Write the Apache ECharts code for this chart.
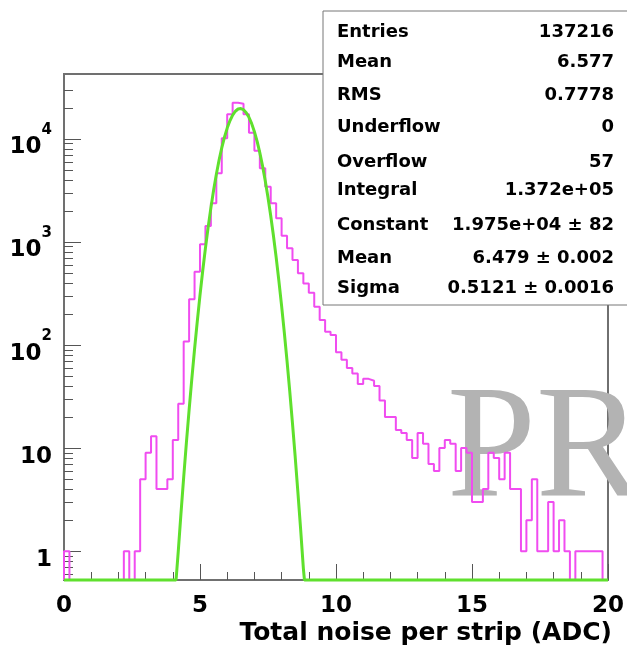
<!DOCTYPE html>
<html>
<head>
<meta charset="utf-8">
<script src="https://cdn.jsdelivr.net/npm/echarts@6/dist/echarts.min.js"></script>
<style>
  html, body { margin: 0; padding: 0; background: #fff; }
  #chart { width: 627px; height: 648px; }
</style>
</head>
<body>
<div id="chart"></div>
<script>
// histogram: 100 bins of 0.2 ADC from 0 to 20
const binWidth = 0.2
const counts = [
  1, 0, 0, 0, 0, 0, 0, 0, 0, 0,
  0, 1, 0, 1, 5, 9, 13, 4, 4, 5,
  12, 27, 108, 278, 515, 950, 1430, 2380, 4650, 10160,
  17400, 22500, 22000, 17400, 11500, 7700, 5200, 3440, 2380, 1700,
  1150, 868, 668, 497, 395, 322, 236, 175, 135, 125,
  85, 72, 60, 53, 42, 47, 45, 40, 29, 20,
  20, 15, 14, 12, 8, 14, 11, 7, 6, 10,
  12, 11, 6, 10, 9, 3, 3, 4, 9, 8,
  5, 9, 4, 4, 1, 2, 5, 1, 1, 3,
  1, 2, 1, 0, 1, 1, 1, 1, 1, 0
]

// gaussian fit curve as drawn (sits on the frame bottom outside 4.1..8.8)
const fitX = [0, 4.12, 4.2, 4.3, 4.4, 4.5, 4.6, 4.7, 4.8, 4.9, 5.0, 5.1, 5.2, 5.3, 5.4, 5.5, 5.6, 5.7, 5.8, 5.9,
  6.0, 6.1, 6.2, 6.3, 6.4, 6.5, 6.6, 6.7, 6.8, 6.9, 7.0, 7.1, 7.2, 7.3, 7.4, 7.5, 7.6, 7.7, 7.8, 7.9,
  8.0, 8.1, 8.2, 8.3, 8.4, 8.5, 8.6, 8.7, 8.8, 8.84, 20]
const fitY = [0, 0.5, 0.99, 2.31, 5.2, 11.3, 23.5, 47.3, 91.4, 170, 305, 526, 873, 1395, 2145, 3176, 4527, 6210, 8200, 10420,
  12750, 15020, 17030, 18580, 19520, 19730, 19210, 17990, 16230, 14090, 11770, 9470, 7331, 5460, 3918, 2706, 1799, 1151, 709, 420,
  240, 132, 69.7, 35.5, 17.4, 8.2, 3.7, 1.63, 0.68, 0.5, 0]

const xMajor = 5
const xMinor = 1
const yMajor = [1, 10, 100, 1000, 10000]
const yMinor = [0.6, 0.7, 0.8, 0.9, 2, 3, 4, 5, 6, 7, 8, 9, 20, 30, 40, 50, 60, 70, 80, 90,
  200, 300, 400, 500, 600, 700, 800, 900, 2000, 3000, 4000, 5000, 6000, 7000, 8000, 9000, 20000, 30000]

const statNames = ['Entries', 'Mean', 'RMS', 'Underflow', 'Overflow', 'Integral', 'Constant', 'Mean', 'Sigma']
const statValues = ['137216', '6.577', '0.7778', '0', '57', '1.372e+05', '1.975e+04 \u00b1 82', '6.479 \u00b1 0.002', '0.5121 \u00b1 0.0016']

const xTitle = 'Total noise per strip (ADC)'
const watermark = 'PR'

const yMin = 0.525
const yMax = 42700
const font = '"DejaVu Sans", "Liberation Sans", sans-serif'

const floorOf = v => Math.max(v, yMin)

const histPoints = [[0, yMin]]
counts.forEach((c, i) => {
  histPoints.push([i * binWidth, floorOf(c)], [(i + 1) * binWidth, floorOf(c)])
})
histPoints.push([counts.length * binWidth, yMin])

const fitPoints = fitX.map((x, i) => [x, floorOf(fitY[i])])

const supDigits = {1: '', 2: '2', 3: '3', 4: '4'}
function yLabel (v) {
  const e = Math.round(Math.log10(v))
  if (e === 0) return '{b|1}'
  if (e === 1) return '{b|10}'
  return '{b|10}{s|' + supDigits[e] + '}'
}

const statRowY = [32, 62, 95, 127, 162, 190, 225, 258, 288]
const statGraphics = [{
  type: 'rect',
  z: 20,
  shape: {x: 323, y: 11, width: 320, height: 294},
  style: {fill: '#fff', stroke: '#777', lineWidth: 1}
}]
statNames.forEach((name, i) => {
  statGraphics.push({
    type: 'text', z: 21, x: 337, y: statRowY[i],
    style: {text: name, font: 'bold 18px ' + font, fill: '#000', align: 'left', verticalAlign: 'middle'}
  })
  statGraphics.push({
    type: 'text', z: 21, x: 614, y: statRowY[i],
    style: {text: statValues[i], font: 'bold 18px ' + font, fill: '#000', align: 'right', verticalAlign: 'middle'}
  })
})

const chart = echarts.init(document.getElementById('chart'), null, {renderer: 'canvas'})
chart.setOption({
  animation: false,
  backgroundColor: '#fff',
  grid: {
    left: 64, right: 19, top: 74, bottom: 68,
    show: true, borderColor: '#707070', borderWidth: 2, backgroundColor: 'transparent'
  },
  xAxis: [
    {
      type: 'value', min: 0, max: 20, interval: xMajor, position: 'bottom',
      name: xTitle, nameLocation: 'end', nameGap: 4,
      nameTextStyle: {
        fontFamily: font, fontWeight: 'bold', fontSize: 25, color: '#000',
        align: 'right', verticalAlign: 'top', padding: [41, 0, 0, 0]
      },
      axisLine: {show: true, onZero: false, lineStyle: {color: '#707070', width: 2}},
      axisTick: {show: true, inside: true, length: 16, lineStyle: {color: '#555', width: 1}},
      axisLabel: {margin: 15, fontFamily: font, fontWeight: 'bold', fontSize: 23, color: '#000'},
      splitLine: {show: false}
    },
    {
      type: 'value', min: 0, max: 20, interval: xMinor, position: 'bottom',
      axisLine: {show: false, onZero: false},
      axisTick: {show: true, inside: true, length: 8, lineStyle: {color: '#555', width: 1}},
      axisLabel: {show: false},
      splitLine: {show: false}
    }
  ],
  yAxis: [
    {
      type: 'log', logBase: 10, min: yMin, max: yMax, position: 'left',
      axisLine: {show: true, onZero: false, lineStyle: {color: '#707070', width: 2}},
      axisTick: {show: true, inside: true, length: 17, customValues: yMajor, lineStyle: {color: '#555', width: 1}},
      axisLabel: {
        customValues: yMajor,
        formatter: yLabel,
        margin: 12,
        padding: [4, 0, 0, 0],
        align: 'right',
        rich: {
          b: {fontFamily: font, fontWeight: 'bold', fontSize: 23, color: '#000', lineHeight: 36, verticalAlign: 'bottom'},
          s: {fontFamily: font, fontWeight: 'bold', fontSize: 15, color: '#000', lineHeight: 18, verticalAlign: 'top'}
        }
      },
      splitLine: {show: false},
      minorTick: {show: false}
    },
    {
      type: 'log', logBase: 10, min: yMin, max: yMax, position: 'left',
      axisLine: {show: false, onZero: false},
      axisTick: {show: true, inside: true, length: 9, customValues: yMinor, lineStyle: {color: '#555', width: 1}},
      axisLabel: {show: false},
      splitLine: {show: false}
    }
  ],
  graphic: [
    {
      type: 'text', z: 1, x: 447, y: 453,
      style: {text: watermark, font: '160px "Liberation Serif", "DejaVu Serif", serif', fill: '#b3b3b3', align: 'left', verticalAlign: 'middle'}
    }
  ].concat(statGraphics),
  series: [
    {
      name: 'noise',
      type: 'line',
      xAxisIndex: 0,
      yAxisIndex: 0,
      data: histPoints,
      symbol: 'none',
      clip: false,
      z: 3,
      lineStyle: {color: '#f04cf0', width: 2}
    },
    {
      name: 'gaus',
      type: 'line',
      xAxisIndex: 0,
      yAxisIndex: 0,
      data: fitPoints,
      symbol: 'none',
      clip: false,
      z: 4,
      lineStyle: {color: '#5fe02d', width: 3}
    }
  ]
})
</script>
</body>
</html>
